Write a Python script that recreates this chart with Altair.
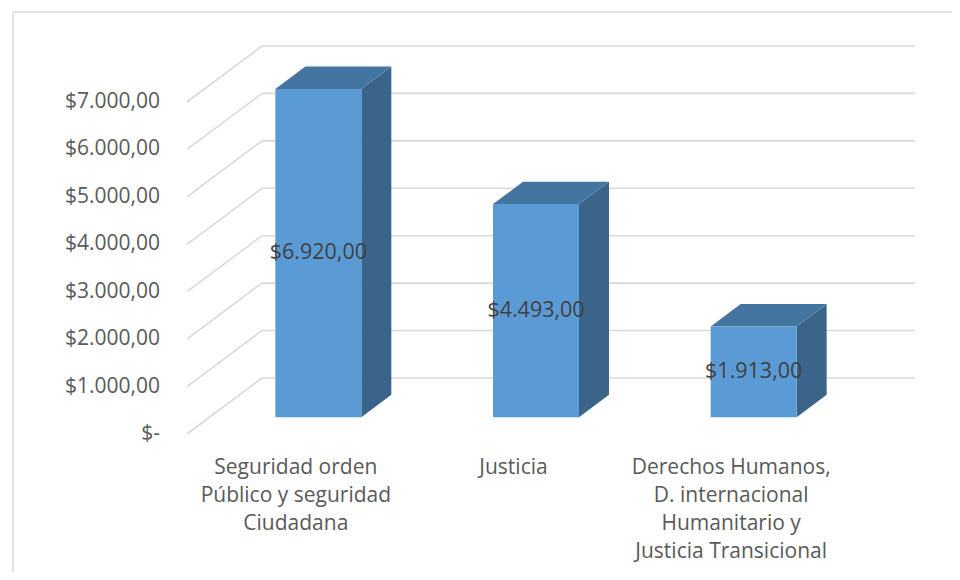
import altair as alt
import pandas as pd

# ---------------- data ----------------
categories = [
    ["Seguridad orden", "Público y seguridad", "Ciudadana"],
    ["Justicia"],
    ["Derechos Humanos,", "D. internacional", "Humanitario y", "Justicia Transicional"],
]
values = [6920, 4493, 1913]
value_labels = ["$6.920,00", "$4.493,00", "$1.913,00"]
tick_values = [0, 1000, 2000, 3000, 4000, 5000, 6000, 7000]
tick_labels = ["$-", "$1.000,00", "$2.000,00", "$3.000,00", "$4.000,00",
               "$5.000,00", "$6.000,00", "$7.000,00"]

# ---------------- layout / style constants ----------------
W, H, MARGIN = 944, 564, 8
PX_PER_UNIT = 0.04743          # pixels per value unit
Y0_PX = 434                    # page y of value 0 on the front plane
FRONT_LEFT, FRONT_RIGHT = 187, 840
DEPTH_X = 75                   # px shift to the back wall
DEPTH_V = 56 / PX_PER_UNIT     # value-unit shift to the back wall
BAR_FRAC = 0.395
D_FRONT, D_BACK = 0.30, 0.70
FONT = "Open Sans"
FS = 21
FS_VAL = 21.5

band = (FRONT_RIGHT - FRONT_LEFT) / len(values)
bw = band * BAR_FRAC
dd = D_BACK - D_FRONT

xscale = alt.Scale(domain=[MARGIN, MARGIN + W], nice=False, zero=False)
yscale = alt.Scale(domain=[(Y0_PX - (MARGIN + H)) / PX_PER_UNIT,
                           (Y0_PX - MARGIN) / PX_PER_UNIT], nice=False, zero=False)

# ---------------- tables built from the arrays ----------------
front, side, top, labels, cats = [], [], [], [], []
for i, (v, lab, cat) in enumerate(zip(values, value_labels, categories)):
    cx = FRONT_LEFT + band * (i + 0.5)
    x0 = cx - bw / 2 + DEPTH_X * D_FRONT
    x1 = x0 + bw
    yb = DEPTH_V * D_FRONT
    yt = v + DEPTH_V * D_FRONT
    front.append(dict(bar=i, x0=x0, x1=x1, yb=yb, yt=yt))
    side.append(dict(bar=i, x=x1, lo=yb, hi=yt))
    side.append(dict(bar=i, x=x1 + DEPTH_X * dd, lo=yb + DEPTH_V * dd, hi=yt + DEPTH_V * dd))
    top.append(dict(bar=i, y=yt, l=x0, r=x1))
    top.append(dict(bar=i, y=yt + DEPTH_V * dd, l=x0 + DEPTH_X * dd, r=x1 + DEPTH_X * dd))
    labels.append(dict(x=(x0 + x1) / 2, y=(yb + yt) / 2, t=lab))
    cats.append(dict(x=cx, y=0, t="\n".join(cat)))

grid = pd.DataFrame(dict(v=tick_values, lab=tick_labels))
grid["vb"] = grid["v"] + DEPTH_V
grid["xf"] = FRONT_LEFT
grid["xb"] = FRONT_LEFT + DEPTH_X
grid["xr"] = FRONT_RIGHT + DEPTH_X

GRID_COLOR = "#D9D9D9"

back_lines = alt.Chart(grid).mark_rule(color=GRID_COLOR, strokeWidth=1.6).encode(
    x=alt.X("xb:Q", scale=xscale, axis=None), x2="xr:Q",
    y=alt.Y("vb:Q", scale=yscale, axis=None))
diag_lines = alt.Chart(grid).mark_rule(color=GRID_COLOR, strokeWidth=1.6).encode(
    x=alt.X("xf:Q", scale=xscale, axis=None), x2="xb:Q",
    y=alt.Y("v:Q", scale=yscale, axis=None), y2="vb:Q")
ytext = alt.Chart(grid).mark_text(align="right", baseline="middle", dx=-27,
                                  font=FONT, fontSize=FS, color="#595959").encode(
    x=alt.X("xf:Q", scale=xscale, axis=None),
    y=alt.Y("v:Q", scale=yscale, axis=None), text="lab:N")

side_faces = alt.Chart(pd.DataFrame(side)).mark_area(orient="vertical", color="#3A6489").encode(
    x=alt.X("x:Q", scale=xscale, axis=None),
    y=alt.Y("lo:Q", scale=yscale, axis=None), y2="hi:Q", detail="bar:N")
top_faces = alt.Chart(pd.DataFrame(top)).mark_area(orient="horizontal", color="#4475A0").encode(
    y=alt.Y("y:Q", scale=yscale, axis=None),
    x=alt.X("l:Q", scale=xscale, axis=None), x2="r:Q", detail="bar:N")
front_faces = alt.Chart(pd.DataFrame(front)).mark_rect(color="#5B9BD5").encode(
    x=alt.X("x0:Q", scale=xscale, axis=None), x2="x1:Q",
    y=alt.Y("yb:Q", scale=yscale, axis=None), y2="yt:Q")
value_text = alt.Chart(pd.DataFrame(labels)).mark_text(
    align="center", baseline="middle", font=FONT, fontSize=FS_VAL, color="#404040").encode(
    x=alt.X("x:Q", scale=xscale, axis=None),
    y=alt.Y("y:Q", scale=yscale, axis=None), text="t:N")
cat_text = alt.Chart(pd.DataFrame(cats)).mark_text(
    align="center", baseline="top", lineBreak="\n", lineHeight=28, dy=22.5,
    font=FONT, fontSize=FS, color="#595959").encode(
    x=alt.X("x:Q", scale=xscale, axis=None),
    y=alt.Y("y:Q", scale=yscale, axis=None), text="t:N")

frame_top = alt.Chart(pd.DataFrame({"a": [0]})).mark_rule(color=GRID_COLOR, strokeWidth=1.5).encode(
    x=alt.value(5), x2=alt.value(W), y=alt.value(4))
frame_left = alt.Chart(pd.DataFrame({"a": [0]})).mark_rule(color=GRID_COLOR, strokeWidth=1.5).encode(
    x=alt.value(5), y=alt.value(4), y2=alt.value(H))

chart = alt.layer(
    frame_top, frame_left, back_lines, diag_lines, ytext,
    side_faces, top_faces, front_faces, value_text, cat_text,
).properties(width=W, height=H, padding=0, autosize="none").configure_view(stroke=None)

chart.save("out.html", embed_options={"renderer": "svg", "actions": False})
